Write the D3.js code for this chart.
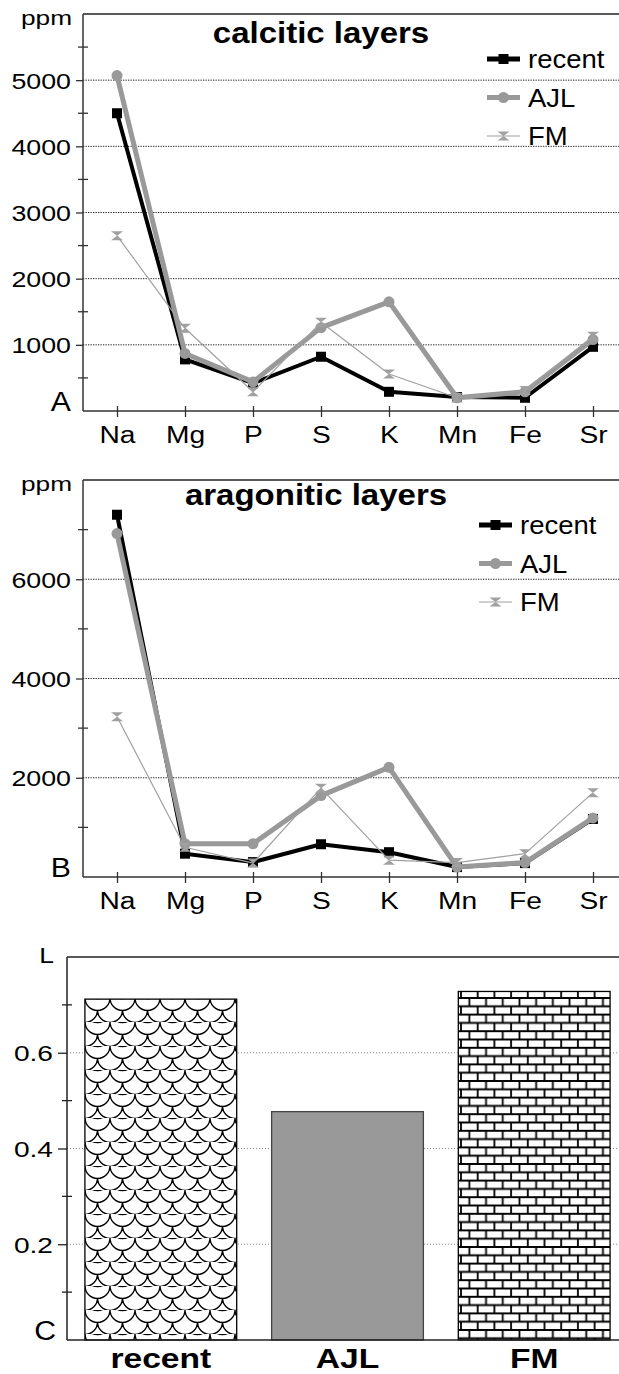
<!DOCTYPE html>
<html><head><meta charset="utf-8">
<script src="https://cdn.jsdelivr.net/npm/d3@7"></script>
<style>body{margin:0;background:#fff} svg{display:block}</style>
</head><body>
<svg id="c" width="619" height="1374"></svg>
<script>
// ---- data ----
const elements = ["Na","Mg","P","S","K","Mn","Fe","Sr"];
const seriesNames = ["recent","AJL","FM"];
const calciticRecent = [4500, 780, 420, 820, 290, 210, 200, 970];
const calciticAJL    = [5070, 870, 440, 1260, 1650, 200, 290, 1080];
const calciticFM     = [2650, 1250, 290, 1340, 560, 200, 310, 1130];
const aragoniticRecent = [7300, 470, 300, 660, 500, 200, 280, 1170];
const aragoniticAJL    = [6920, 670, 670, 1640, 2210, 200, 290, 1190];
const aragoniticFM     = [3230, 600, 280, 1790, 340, 290, 470, 1700];
const calciticTicks = [1000, 2000, 3000, 4000, 5000];
const aragoniticTicks = [2000, 4000, 6000];
const barGroups = ["recent","AJL","FM"];
const barL = [0.712, 0.477, 0.728];
const barTicks = [0.2, 0.4, 0.6];

const FONT = "Liberation Sans, Arial, Helvetica, sans-serif";
const svg = d3.select("#c");
const defs = svg.append("defs");

// scale (fish) pattern
const ps = defs.append("pattern").attr("id","scales").attr("patternUnits","userSpaceOnUse")
  .attr("width",25).attr("height",24).attr("patternTransform","translate(85,998)");
ps.append("rect").attr("width",25).attr("height",24).attr("fill","#fff");
ps.append("path").attr("fill","none").attr("stroke","#000").attr("stroke-width",1.4)
  .attr("d","M0,0 A12.5,12.5 0 0 0 25,0 M-12.5,12 A12.5,12.5 0 0 0 12.5,12 M12.5,12 A12.5,12.5 0 0 0 37.5,12 M0,-12 A12.5,12.5 0 0 0 25,-12 M0,24 A12.5,12.5 0 0 0 25,24");
// brick pattern
const bw = 16.7, bh = 8.3;
const pb = defs.append("pattern").attr("id","bricks").attr("patternUnits","userSpaceOnUse")
  .attr("width",bw).attr("height",bh*2).attr("patternTransform","translate(461,998)");
pb.append("rect").attr("width",bw).attr("height",bh*2).attr("fill","#fff");
pb.append("path").attr("fill","none").attr("stroke","#000").attr("stroke-width",1.8)
  .attr("d",`M0,0 H${bw} M0,${bh} H${bw} M0,${2*bh} H${bw} M${bw/2},0 V${bh} M0,${bh} V${2*bh} M${bw},${bh} V${2*bh}`);

function txt(g, x, y, s, o) {
  return g.append("text").attr("transform", `translate(${x},${y}) scale(${o.sx||1},1)`)
    .attr("text-anchor", o.anchor || "middle").attr("font-size", o.size)
    .attr("font-weight", o.weight || "normal").attr("font-family", FONT)
    .attr("fill", "#000").text(s);
}

const styles = {
  recent: {color:"#000", width:4, marker:"square"},
  AJL: {color:"#999", width:5, marker:"circle"},
  FM: {color:"#a0a0a0", width:1.2, marker:"hourglass"}
};
function marker(g, kind, x, y, color) {
  if (kind === "square") g.append("rect").attr("x",x-5).attr("y",y-5).attr("width",10).attr("height",10).attr("fill",color);
  else if (kind === "circle") g.append("circle").attr("cx",x).attr("cy",y).attr("r",5.5).attr("fill",color);
  else g.append("path").attr("d",`M${x-6},${y-4.5} L${x+6},${y-4.5} L${x-6},${y+4.5} L${x+6},${y+4.5} Z`).attr("fill",color);
}

function linePanel(cfg) {
  const {top, bottom, left, ymax, majors, data, title, titleX, titleY, letter, legendX, legendY, ppmY} = cfg;
  const g = svg.append("g");
  const x = d3.scalePoint().domain(elements).range([left, 627]).padding(0.5);
  const y = d3.scaleLinear().domain([0, ymax]).range([bottom, top]);
  // grid
  g.selectAll(".grid").data(majors).join("line")
    .attr("x1", left).attr("x2", 619).attr("y1", d=>y(d)).attr("y2", d=>y(d))
    .attr("stroke","#222").attr("stroke-width",1).attr("stroke-dasharray","1.3,1.2");
  // frame
  g.append("line").attr("x1",left).attr("x2",619).attr("y1",top).attr("y2",top).attr("stroke","#222").attr("stroke-width",1.5);
  // y axis
  const minors = y.ticks(ymax === 6000 ? 12 : 8).filter(v => v > 0 && v < ymax && !majors.includes(v) && (ymax===6000 ? v % 1000 !== 0 : v % 2000 !== 0));
  const ya = g.append("g").attr("transform",`translate(${left},0)`)
    .call(d3.axisLeft(y).tickValues(majors).tickSize(7).tickSizeOuter(0).tickFormat(d3.format("d")));
  ya.select(".domain").attr("stroke","#333").attr("stroke-width",1.5).attr("d",`M0,${top}V${bottom}`);
  ya.selectAll(".tick line").attr("stroke","#333").attr("stroke-width",1.3);
  ya.selectAll(".tick text").attr("x",null).attr("dy",null).attr("font-family",FONT).attr("font-size",22.5).attr("fill","#000")
    .attr("transform","translate(-12,8) scale(1.19,1)");
  g.selectAll(".minor").data(minors).join("line").attr("x1",left-5).attr("x2",left+5)
    .attr("y1",d=>y(d)).attr("y2",d=>y(d)).attr("stroke","#333").attr("stroke-width",1.3);
  // x axis
  g.append("line").attr("x1",left).attr("x2",619).attr("y1",bottom).attr("y2",bottom).attr("stroke","#333").attr("stroke-width",1.5);
  const xa = g.append("g").attr("transform",`translate(0,${bottom})`)
    .call(d3.axisBottom(x).tickSize(6).tickSizeOuter(0));
  xa.select(".domain").remove();
  xa.selectAll(".tick line").attr("y1",-5).attr("y2",6).attr("stroke","#333").attr("stroke-width",1.3);
  xa.selectAll(".tick text").attr("y",null).attr("dy",null).attr("font-family",FONT).attr("font-size",24.5).attr("fill","#000")
    .attr("transform","translate(0,32) scale(1.15,1)");
  // series
  const line = d3.line().x((d,i)=>x(elements[i])).y(d=>y(d));
  seriesNames.forEach((name, k) => {
    const st = styles[name];
    const vals = data[k];
    g.append("path").attr("d", line(vals)).attr("fill","none").attr("stroke",st.color)
      .attr("stroke-width",st.width).attr("stroke-linejoin","round");
    vals.forEach((v,i)=>marker(g, st.marker, x(elements[i]), y(v), st.color));
  });
  // titles
  txt(g, titleX, titleY, title, {size:30, weight:"bold", sx:1.1});
  txt(g, 72, ppmY, "ppm", {size:21, sx:1.25, anchor:"end"});
  txt(g, 71, bottom, letter, {size:27, sx:1.12, anchor:"end"});
  // legend
  seriesNames.forEach((name,k) => {
    const st = styles[name];
    const ly = legendY + k*38.5;
    g.append("line").attr("x1",legendX).attr("x2",legendX+33).attr("y1",ly).attr("y2",ly)
      .attr("stroke",st.color).attr("stroke-width", name==="FM"?1.2:5);
    marker(g, st.marker, legendX+16.5, ly, st.color);
    txt(g, legendX+41, ly+9, name, {size:25, sx:1.1, anchor:"start"});
  });
}

linePanel({top:14, bottom:411, left:83, ymax:6000, majors:calciticTicks,
  data:[calciticRecent, calciticAJL, calciticFM], title:"calcitic layers", titleX:321, titleY:43,
  letter:"A", legendX:487, legendY:59, ppmY:25});
linePanel({top:480, bottom:877, left:83, ymax:8000, majors:aragoniticTicks,
  data:[aragoniticRecent, aragoniticAJL, aragoniticFM], title:"aragonitic layers", titleX:316, titleY:505,
  letter:"B", legendX:479, legendY:525, ppmY:491});

// ---- panel C ----
(function(){
  const g = svg.append("g");
  const left = 67, top = 957, bottom = 1340;
  const x = d3.scaleBand().domain(barGroups).range([left, 628]).paddingInner(0.187).paddingOuter(0.096);
  const y = d3.scaleLinear().domain([0, 0.8]).range([bottom, top]);
  g.selectAll(".grid").data(barTicks).join("line")
    .attr("x1", left).attr("x2", 619).attr("y1", d=>y(d)).attr("y2", d=>y(d))
    .attr("stroke","#888").attr("stroke-width",1).attr("stroke-dasharray","1,2");
  g.append("line").attr("x1",left).attr("x2",619).attr("y1",top).attr("y2",top).attr("stroke","#222").attr("stroke-width",1.5);
  const fills = ["url(#scales)", "#999", "url(#bricks)"];
  const strokes = ["#000", "#444", "#000"];
  g.selectAll(".bar").data(barL).join("rect")
    .attr("x",(d,i)=>x(barGroups[i])).attr("width",x.bandwidth())
    .attr("y",d=>y(d)).attr("height",d=>bottom-y(d))
    .attr("fill",(d,i)=>fills[i]).attr("stroke",(d,i)=>strokes[i]).attr("stroke-width",1.3);
  const ya = g.append("g").attr("transform",`translate(${left},0)`)
    .call(d3.axisLeft(y).tickValues(barTicks).tickSize(9).tickSizeOuter(0).tickFormat(d3.format(".1f")));
  ya.select(".domain").attr("stroke","#222").attr("stroke-width",1.5).attr("d",`M0,${top}V${bottom}`);
  ya.selectAll(".tick line").attr("stroke","#222").attr("stroke-width",1.3);
  ya.selectAll(".tick text").attr("x",null).attr("dy",null).attr("font-family",FONT).attr("font-size",22.5).attr("fill","#000")
    .attr("transform","translate(-14,8) scale(1.25,1)");
  const minors = y.ticks(8).filter(v => v > 0 && v < 0.8 && Math.round(v*10) % 2 === 1);
  g.selectAll(".minor").data(minors).join("line").attr("x1",left-5).attr("x2",left+5)
    .attr("y1",d=>y(d)).attr("y2",d=>y(d)).attr("stroke","#222").attr("stroke-width",1.3);
  g.append("line").attr("x1",left).attr("x2",619).attr("y1",bottom).attr("y2",bottom).attr("stroke","#222").attr("stroke-width",1.5);
  const xa = g.append("g").attr("transform",`translate(0,${bottom})`).call(d3.axisBottom(x).tickSize(0).tickSizeOuter(0));
  xa.select(".domain").remove();
  xa.selectAll(".tick text").attr("y",null).attr("dy",null).attr("font-family",FONT).attr("font-size",28)
    .attr("font-weight","bold").attr("fill","#000").attr("transform","translate(0,28) scale(1.2,1)");
  txt(g, 54, 963, "L", {size:22, sx:1.2, anchor:"end"});
  txt(g, 56, 1340, "C", {size:27, sx:1.12, anchor:"end"});
})();
</script>
</body></html>
